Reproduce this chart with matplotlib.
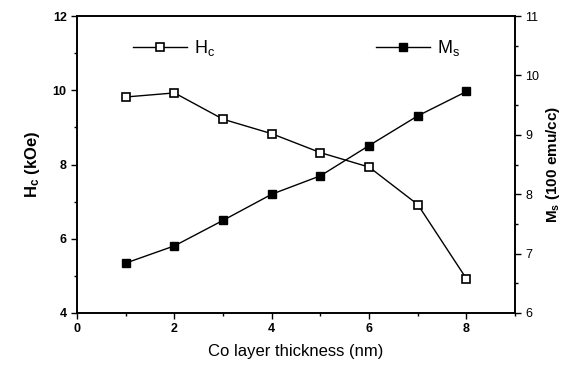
import matplotlib
matplotlib.use("Agg")
import matplotlib.pyplot as plt
from matplotlib.ticker import MultipleLocator

plt.rcParams['font.family'] = ['Liberation Sans', 'DejaVu Sans']
plt.rcParams['mathtext.fontset'] = 'custom'
plt.rcParams['mathtext.rm'] = 'Liberation Sans'
plt.rcParams['mathtext.it'] = 'Liberation Sans'
plt.rcParams['mathtext.bf'] = 'Liberation Sans:bold'

thickness = [1, 2, 3, 4, 5, 6, 7, 8]
hc = [9.82, 9.93, 9.22, 8.83, 8.32, 7.93, 6.92, 4.92]
ms = [6.84, 7.13, 7.56, 8.0, 8.31, 8.82, 9.32, 9.73]

fig = plt.figure(figsize=(5.63, 3.66), dpi=100)
ax = fig.add_axes([0.137, 0.145, 0.778, 0.811])
ax2 = ax.twinx()

l1, = ax.plot(thickness, hc, '-', color='black', lw=1.0, marker='s',
              markersize=6, markerfacecolor='white', markeredgecolor='black',
              markeredgewidth=1.2, label='H$_c$')
l2, = ax2.plot(thickness, ms, '-', color='black', lw=1.0, marker='s',
               markersize=6, markerfacecolor='black', markeredgecolor='black',
               label='M$_s$')

ax.set_xlim(0, 9)
ax.set_ylim(4, 12)
ax2.set_ylim(6, 11)

ax.xaxis.set_major_locator(MultipleLocator(2))
ax.xaxis.set_minor_locator(MultipleLocator(1))
ax.yaxis.set_major_locator(MultipleLocator(2))
ax.yaxis.set_minor_locator(MultipleLocator(1))
ax2.yaxis.set_major_locator(MultipleLocator(1))
ax2.yaxis.set_minor_locator(MultipleLocator(0.5))

ax.tick_params(axis='both', which='major', direction='out', length=4, width=1,
               labelsize=9, top=False)
ax.tick_params(axis='both', which='minor', direction='out', length=2.5, width=1, top=False)
ax2.tick_params(axis='y', which='major', direction='out', length=4, width=1, labelsize=9)
ax2.tick_params(axis='y', which='minor', direction='out', length=2.5, width=1)
for lab in ax.get_xticklabels() + ax.get_yticklabels():
    lab.set_fontweight('bold')

for a in (ax, ax2):
    for s in a.spines.values():
        s.set_linewidth(1.2)

ax.set_xlabel('Co layer thickness (nm)', fontsize=12, labelpad=6)
ax.set_ylabel(r'$\mathbf{H_c}$ (kOe)', fontsize=12, fontweight='bold', labelpad=8)
ax2.set_ylabel(r'$\mathbf{M_s}$ (100 emu/cc)', fontsize=11, fontweight='bold', labelpad=3)

ax.legend(handles=[l1], loc='upper left', bbox_to_anchor=(0.09, 0.98),
          frameon=False, handlelength=3, handletextpad=0.4, fontsize=13)
ax2.legend(handles=[l2], loc='upper left', bbox_to_anchor=(0.645, 0.98),
           frameon=False, handlelength=3, handletextpad=0.4, fontsize=13)

fig.savefig('out.png', dpi=100)
